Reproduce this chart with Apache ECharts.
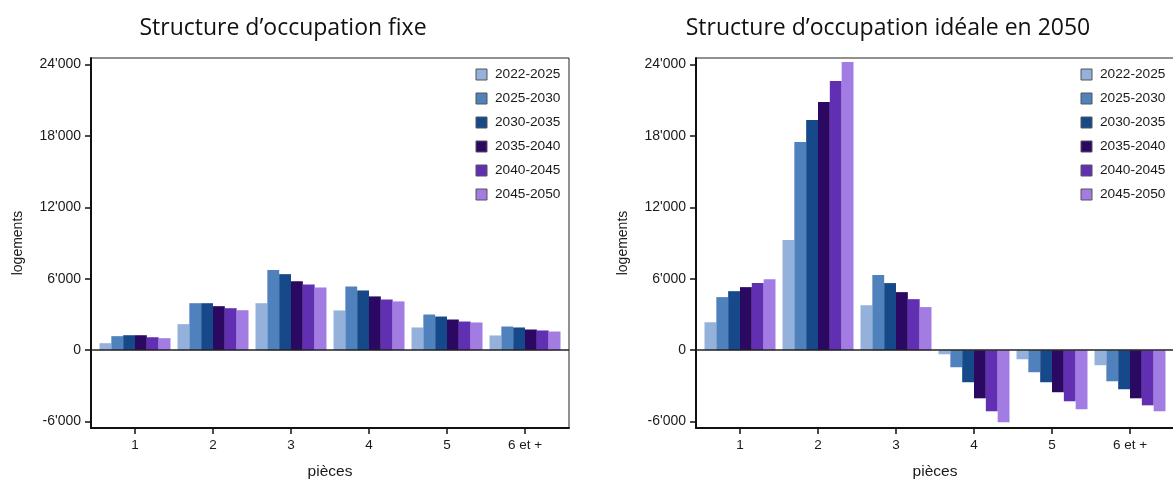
<!DOCTYPE html>
<html>
<head>
<meta charset="utf-8">
<script src="https://cdn.jsdelivr.net/npm/echarts@6/dist/echarts.min.js"></script>
<style>
  html, body { margin: 0; padding: 0; background: #fff; }
  #chart { width: 1173px; height: 479px; }
</style>
</head>
<body>
<div id="chart"></div>
<script>
// Number of rooms per dwelling
const categories = ['1', '2', '3', '4', '5', '6 et +'];
const periods = ['2022-2025', '2025-2030', '2030-2035', '2035-2040', '2040-2045', '2045-2050'];
const yTicks = [-6000, 0, 6000, 12000, 18000, 24000];

// Fixed occupancy structure: dwellings needed per period
const fixe2022 = [590, 2190, 3950, 3340, 1910, 1240];
const fixe2025 = [1180, 3950, 6730, 5360, 3000, 1990];
const fixe2030 = [1260, 3950, 6390, 5020, 2830, 1910];
const fixe2035 = [1260, 3700, 5800, 4520, 2580, 1740];
const fixe2040 = [1090, 3530, 5530, 4260, 2410, 1660];
const fixe2045 = [1010, 3360, 5270, 4100, 2330, 1570];

// Ideal occupancy structure in 2050: dwellings needed per period
const ideal2022 = [2350, 9250, 3780, -340, -760, -1260];
const ideal2025 = [4460, 17490, 6310, -1430, -1850, -2610];
const ideal2030 = [4960, 19340, 5640, -2690, -2690, -3280];
const ideal2035 = [5300, 20860, 4880, -4040, -3530, -4040];
const ideal2040 = [5640, 22620, 4290, -5130, -4290, -4630];
const ideal2045 = [5970, 24220, 3620, -6060, -4960, -5130];

const colors = ['#93B1DB', '#4F81BD', '#15498A', '#2B0862', '#6130B2', '#A27BE3'];
const fixeSets = [fixe2022, fixe2025, fixe2030, fixe2035, fixe2040, fixe2045];
const idealSets = [ideal2022, ideal2025, ideal2030, ideal2035, ideal2040, ideal2045];

const FONT = '"Liberation Sans", Arial, sans-serif';
const TXT = '#1a1a1a';

function fmt(v) {
  const s = String(Math.abs(v)).replace(/\B(?=(\d{3})+(?!\d))/g, "'");
  return (v < 0 ? '-' : '') + s;
}

function xAxis(gridIndex) {
  return {
    type: 'value', gridIndex: gridIndex, min: 0.436, max: 6.564,
    name: 'pièces', nameLocation: 'middle', nameGap: 36,
    nameTextStyle: { fontFamily: FONT, fontSize: 15.5, color: TXT },
    axisLine: { show: true, onZero: false, lineStyle: { color: '#111', width: 2 } },
    axisTick: { show: true, length: 6, customValues: [1, 2, 3, 4, 5, 6], lineStyle: { color: '#111', width: 1.5 } },
    axisLabel: { customValues: [1, 2, 3, 4, 5, 6], formatter: v => categories[Math.round(v) - 1],
                 fontFamily: FONT, fontSize: 13.5, color: TXT, margin: 10 },
    splitLine: { show: false }
  };
}

function yAxis(gridIndex) {
  return {
    type: 'value', gridIndex: gridIndex, min: -6535, max: 24550,
    name: 'logements', nameLocation: 'middle', nameGap: 66, nameRotate: 90,
    nameTextStyle: { fontFamily: FONT, fontSize: 14, color: TXT },
    axisLine: { show: true, lineStyle: { color: '#111', width: 2 } },
    axisTick: { show: true, length: 6, customValues: yTicks, lineStyle: { color: '#111', width: 1.5 } },
    axisLabel: { customValues: yTicks, formatter: fmt, fontFamily: FONT, fontSize: 14, color: TXT, margin: 10 },
    splitLine: { show: false }
  };
}

function makeSeries(sets, idx) {
  return sets.map((vals, i) => {
    const s = {
      name: periods[i], type: 'bar', xAxisIndex: idx, yAxisIndex: idx,
      data: vals.map((v, k) => [k + 1, v]),
      itemStyle: { color: colors[i] },
      barGap: '0%', barCategoryGap: '9%',
      emphasis: { disabled: true }
    };
    if (i === 0) {
      s.markLine = {
        silent: true, symbol: 'none', label: { show: false },
        lineStyle: { color: '#222', width: 1.5, type: 'solid' },
        data: [{ yAxis: 0 }], animation: false
      };
    }
    return s;
  });
}

function legend(left) {
  return {
    orient: 'vertical', left: left, top: 67.5, padding: 0,
    itemWidth: 11, itemHeight: 11, itemGap: 10,
    icon: 'rect', data: periods,
    itemStyle: { borderColor: '#555', borderWidth: 1 },
    textStyle: { fontFamily: FONT, fontSize: 13.7, color: TXT, padding: [0, 0, 0, 3] }
  };
}

function grid(left) {
  return {
    left: left, top: 58, width: 478, height: 370, outerBoundsMode: 'none', containLabel: false,
    show: true, borderColor: '#222', borderWidth: 1, backgroundColor: 'transparent'
  };
}

const chart = echarts.init(document.getElementById('chart'), null, { renderer: 'canvas' });
chart.setOption({
  animation: false,
  color: colors,
  graphic: [
    { type: 'text', x: 283, y: 28.5,
      style: { text: 'Structure d’occupation fixe', font: '23px "Open Sans", sans-serif',
               fill: '#111', textAlign: 'center', textVerticalAlign: 'middle' } },
    { type: 'text', x: 888, y: 28.5,
      style: { text: 'Structure d’occupation idéale en 2050', font: '23px "Open Sans", sans-serif',
               fill: '#111', textAlign: 'center', textVerticalAlign: 'middle' } }
  ],
  legend: [legend(475.5), legend(1080.5)],
  grid: [grid(91), grid(696)],
  xAxis: [xAxis(0), xAxis(1)],
  yAxis: [yAxis(0), yAxis(1)],
  series: makeSeries(fixeSets, 0).concat(makeSeries(idealSets, 1))
});
</script>
</body>
</html>
